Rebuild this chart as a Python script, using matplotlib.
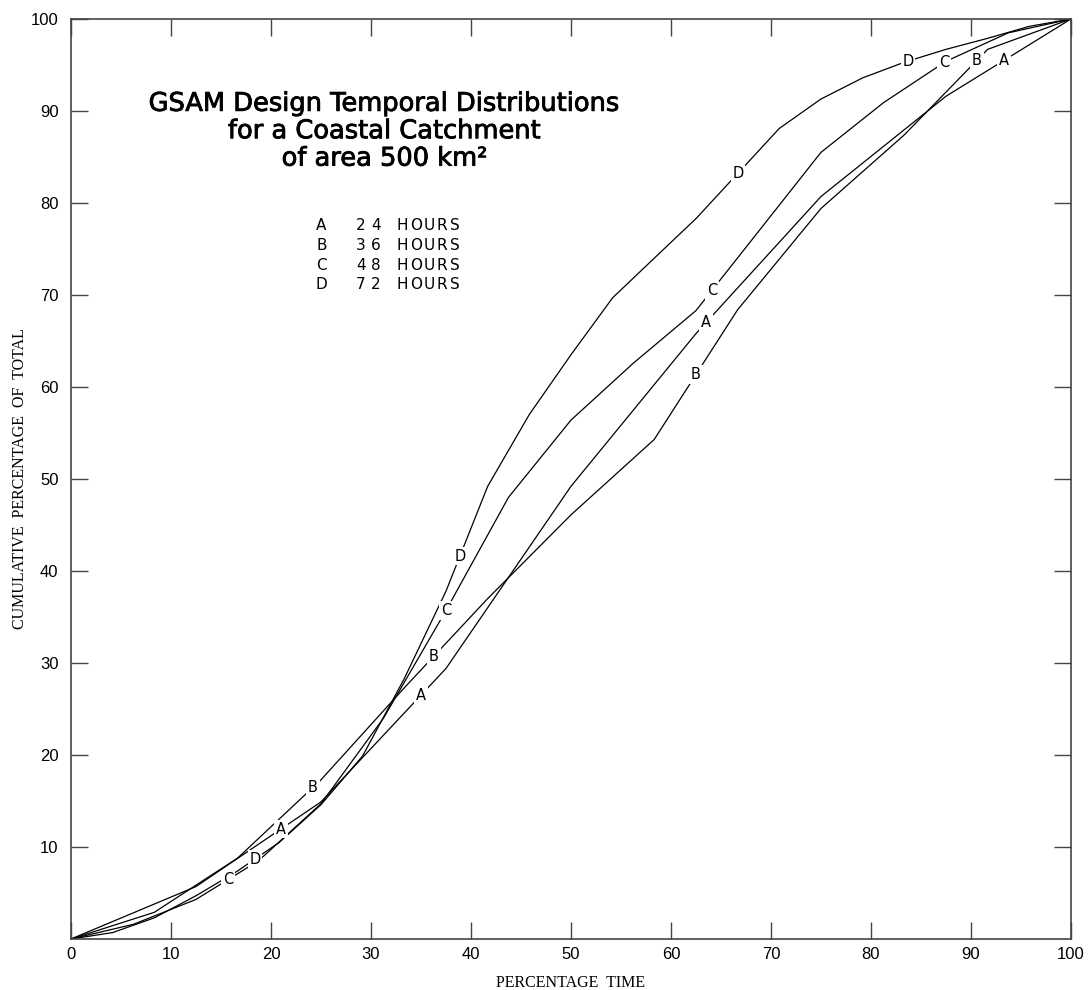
import numpy as np
import matplotlib.pyplot as plt
import matplotlib.patheffects as pe

# time steps (percentage of storm duration) for each design duration
xa = [0, 12.5, 25, 37.5, 50, 62.5, 75, 87.5, 100]
ya = [0, 5.7, 14.9, 29.4, 49.2, 65.8, 80.7, 91.6, 100]

xb = [0, 8.33, 16.67, 25, 33.33, 41.67, 50, 58.33, 66.67, 75, 83.33, 91.67, 100]
yb = [0, 2.9, 8.8, 17.3, 27.3, 37.0, 46.1, 54.3, 68.4, 79.4, 87.4, 96.7, 100]

xc = [0, 6.25, 12.5, 18.75, 25, 31.25, 37.5, 43.75, 50, 56.25, 62.5, 68.75,
      75, 81.25, 87.5, 93.75, 100]
yc = [0, 1.6, 4.3, 8.5, 14.7, 24.0, 35.7, 48.0, 56.4, 62.6, 68.3, 76.9,
      85.5, 90.9, 95.4, 98.5, 100]

xd = [0, 4.17, 8.33, 12.5, 16.67, 20.83, 25, 29.17, 33.33, 37.5, 41.67, 45.83,
      50, 54.17, 58.33, 62.5, 66.67, 70.83, 75, 79.17, 83.33, 87.5, 91.67,
      95.83, 100]
yd = [0, 0.7, 2.3, 4.7, 7.4, 10.5, 14.6, 19.9, 28.3, 37.8, 49.2, 57.0,
      63.5, 69.7, 74.0, 78.3, 83.2, 88.1, 91.3, 93.6, 95.3, 96.7, 97.9,
      99.2, 100]

letters = ["A", "B", "C", "D"]
hours = ["24", "36", "48", "72"]
# where along each curve the letter is written
label_x = {
    "A": [21, 35, 63.5, 93.3],
    "B": [24.2, 36.3, 62.5, 90.6],
    "C": [15.7, 37.5, 64.1, 87.3],
    "D": [18.4, 38.9, 66.7, 83.7],
}

curves = {"A": (xa, ya), "B": (xb, yb), "C": (xc, yc), "D": (xd, yd)}

LFONT = dict(family="DejaVu Sans", fontsize=10.5, color="black")


def spaced(ax, x, y, s, pitch, size=10.5):
    # plotter style lettering: one glyph every `pitch` points
    for i, ch in enumerate(s):
        ax.annotate(ch, (x, y), xytext=(i * pitch, 0), textcoords="offset points",
                    ha="left", va="center", family="DejaVu Sans",
                    fontsize=size, color="black")


fig = plt.figure(figsize=(10.9, 9.9), dpi=100)
ax = fig.add_axes([0.0651, 0.0515, 0.9174, 0.9293])

for k in letters:
    x, y = curves[k]
    ax.plot(x, y, color="black", lw=0.9, zorder=2)
    for lx in label_x[k]:
        ly = np.interp(lx, x, y)
        ax.text(lx, ly, k, ha="center", va="center", zorder=3,
                bbox=dict(boxstyle="square,pad=0.12", fc="white", ec="none"),
                **LFONT)

ax.set_xlim(0, 100)
ax.set_ylim(0, 100)
ax.set_xticks(np.arange(0, 101, 10))
ax.set_yticks(np.arange(10, 101, 10))
ax.tick_params(direction="in", length=12, width=1, color="#444444",
               top=True, right=True, labelsize=12)
ax.tick_params(axis="x", pad=6)
ax.tick_params(axis="y", pad=9)
for lab in ax.get_xticklabels() + ax.get_yticklabels():
    lab.set_family("Liberation Sans")
for s in ax.spines.values():
    s.set_color("#444444")
    s.set_linewidth(1.2)

ax.set_xlabel("PERCENTAGE  TIME", family="Liberation Serif", fontsize=11.5,
              labelpad=9)
ax.set_ylabel("CUMULATIVE  PERCENTAGE  OF  TOTAL", family="Liberation Serif",
              fontsize=11.5, labelpad=2)

ax.text(31.4, 87.8, "GSAM Design Temporal Distributions\nfor a Coastal Catchment\nof area 500 km²",
        ha="center", va="center", fontsize=18.5, family="DejaVu Sans",
        linespacing=1.07,
        path_effects=[pe.withStroke(linewidth=0.6, foreground="black")])

for i, (k, h) in enumerate(zip(letters, hours)):
    yy = 77.6 - i * 2.17
    ax.text(25.05, yy, k, ha="center", va="center", fontsize=11,
            family="DejaVu Sans", color="black")
    spaced(ax, 28.5, yy, h, 10.8, 11)
    spaced(ax, 32.6, yy, "HOURS", 9.6, 11)

fig.savefig("out.png", dpi=100)
